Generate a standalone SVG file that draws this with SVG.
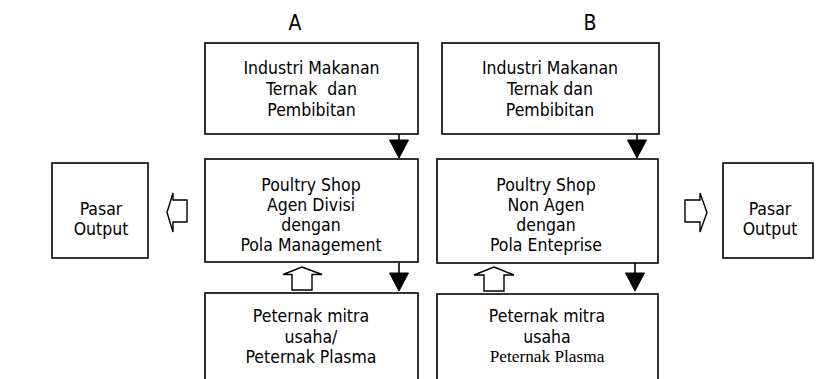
<svg xmlns="http://www.w3.org/2000/svg" width="817" height="379" viewBox="0 0 817 379">
<style>
.box{fill:#fff;stroke:#000;stroke-width:1.6}
.t{font-family:"DejaVu Sans Condensed","DejaVu Sans",sans-serif;font-size:17.5px;fill:#000;text-anchor:middle}
.s{font-family:"Liberation Serif","Times New Roman",serif;font-size:17.3px;fill:#000;text-anchor:middle}
.h{font-family:"DejaVu Sans Condensed","DejaVu Sans",sans-serif;font-size:21px;fill:#000;text-anchor:middle}
.solid{fill:#000;stroke:#000;stroke-width:1}
.line{stroke:#000;stroke-width:1.6;fill:none}
.hollow{fill:#fff;stroke:#000;stroke-width:1.4;stroke-linejoin:miter}
</style>
<rect width="817" height="379" fill="#fff"/>
<text class="h" x="295" y="30">A</text>
<text class="h" x="590" y="30">B</text>
<g id="a-industri">
<rect class="box" x="205" y="43" width="213" height="91"/>
<text class="t" x="311.5" y="74">Industri Makanan</text>
<text class="t" x="311.5" y="95" xml:space="preserve">Ternak  dan</text>
<text class="t" x="311.5" y="116">Pembibitan</text>
</g>
<g id="b-industri">
<rect class="box" x="442" y="43" width="217" height="91"/>
<text class="t" x="550" y="74">Industri Makanan</text>
<text class="t" x="550" y="95">Ternak dan</text>
<text class="t" x="550" y="116">Pembibitan</text>
</g>
<g id="a-poultry">
<rect class="box" x="205" y="159" width="213" height="103"/>
<text class="t" x="311" y="191">Poultry Shop</text>
<text class="t" x="311" y="211">Agen Divisi</text>
<text class="t" x="311" y="231">dengan</text>
<text class="t" x="311" y="251">Pola Management</text>
</g>
<g id="b-poultry">
<rect class="box" x="437" y="159" width="221" height="104"/>
<text class="t" x="546" y="191">Poultry Shop</text>
<text class="t" x="546" y="211">Non Agen</text>
<text class="t" x="546" y="231">dengan</text>
<text class="t" x="546" y="251">Pola Enteprise</text>
</g>
<g id="a-peternak">
<rect class="box" x="205" y="293" width="213" height="100"/>
<text class="t" x="311" y="322">Peternak mitra</text>
<text class="t" x="311" y="343">usaha/</text>
<text class="t" x="311" y="363">Peternak Plasma</text>
</g>
<g id="b-peternak">
<rect class="box" x="437" y="294" width="221" height="100"/>
<text class="t" x="547" y="322">Peternak mitra</text>
<text class="t" x="547" y="343">usaha</text>
<text class="s" x="547" y="362">Peternak Plasma</text>
</g>
<g id="a-pasar">
<rect class="box" x="52" y="163" width="96" height="95"/>
<text class="t" x="101" y="215">Pasar</text>
<text class="t" x="101" y="235">Output</text>
</g>
<g id="b-pasar">
<rect class="box" x="723" y="163" width="90" height="95"/>
<text class="t" x="770" y="215">Pasar</text>
<text class="t" x="770" y="235">Output</text>
</g>
<g id="connectors">
<line class="line" x1="399" y1="134" x2="399" y2="141"/>
<polygon class="solid" points="389.5,140 408.5,140 399,158"/>
<line class="line" x1="399" y1="263" x2="399" y2="274"/>
<polygon class="solid" points="389.5,273 408.5,273 399,291"/>
<line class="line" x1="637" y1="134" x2="637" y2="141"/>
<polygon class="solid" points="627.5,140 646.5,140 637,158"/>
<line class="line" x1="635" y1="263" x2="635" y2="274"/>
<polygon class="solid" points="625.5,273 644.5,273 635,291"/>
<polygon class="hollow" points="302,267 322,274.5 312,274.5 312,290 292,290 292,274.5 283,274.5"/>
<polygon class="hollow" points="494,267 514,275 504,275 504,291 484,291 484,275 474,275"/>
<polygon class="hollow" points="167,212.5 173,193 173,200 187,200 187,222 173,222 173,232"/>
<polygon class="hollow" points="707,212.5 700,193 700,200 685,200 685,222 700,222 700,232"/>
</g>
</svg>
